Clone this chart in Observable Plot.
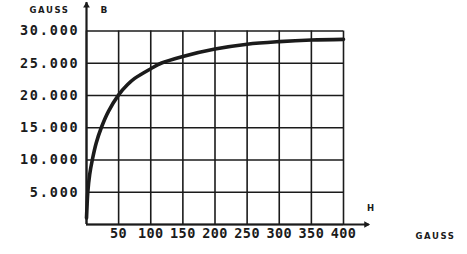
<!DOCTYPE html>
<html>
<head>
<meta charset="utf-8">
<script src="https://cdn.jsdelivr.net/npm/d3@7"></script>
<script src="https://cdn.jsdelivr.net/npm/@observablehq/plot@0.6"></script>
<style>
  html, body { margin: 0; padding: 0; background: #fff; }
  #chart svg { display: block; }
  .ylab text { letter-spacing: 1.8px; }
  .xlab text { letter-spacing: 0.4px; }
  .unit { letter-spacing: 1.6px; }
</style>
</head>
<body>
<div id="chart"></div>
<script>
// Magnetization curve: H (gauss) vs B (gauss)
const H = [0, 1, 2, 5, 9, 15, 23, 34, 50, 64, 75, 100, 116, 150, 200, 250, 300, 350, 400];
const B = [1000, 3200, 5000, 7800, 10000, 12600, 15000, 17500, 20100, 21700, 22650, 24150, 25000, 26050, 27200, 27950, 28350, 28600, 28700];
const xTicks = [50, 100, 150, 200, 250, 300, 350, 400];
const yTicks = [5000, 10000, 15000, 20000, 25000, 30000];
const gridX = [0, 50, 100, 150, 200, 250, 300, 350, 400];
const gridY = [0, 5000, 10000, 15000, 20000, 25000, 30000];
const xAxisEnd = 440;   // arrow tip of H axis
const yAxisEnd = 34400; // arrow tip of B axis

const curve = H.map((h, i) => ({H: h, B: B[i]}));
const ink = "#1b1b1b";
const mono = "DejaVu Sans Mono";

const chart = Plot.plot({
  width: 467,
  height: 254,
  marginLeft: 86,
  marginRight: 124,
  marginTop: 30.5,
  marginBottom: 30,
  style: {fontFamily: "DejaVu Sans", color: ink, background: "#fff"},
  x: {domain: [0, 400], axis: null},
  y: {domain: [0, 30000], axis: null},
  marks: [
    Plot.ruleX(gridX, {y1: 0, y2: 30000, stroke: ink, strokeWidth: 1.6}),
    Plot.ruleY(gridY, {x1: 0, x2: 400, stroke: ink, strokeWidth: 1.6}),
    // axes with arrows
    Plot.ruleY([0], {x1: 0, x2: xAxisEnd, stroke: ink, strokeWidth: 2.2}),
    Plot.ruleX([0], {y1: 0, y2: yAxisEnd, stroke: ink, strokeWidth: 2.2}),
    Plot.dot([{x: xAxisEnd, y: 0}], {x: "x", y: "y", symbol: "triangle2", r: 3.2, fill: ink, stroke: null, rotate: 90, dx: -3}),
    Plot.dot([{x: 0, y: yAxisEnd}], {x: "x", y: "y", symbol: "triangle2", r: 3.2, fill: ink, stroke: null, dy: 3}),
    // curve
    Plot.line(curve, {x: "H", y: "B", curve: "catmull-rom", stroke: ink, strokeWidth: 3.6, strokeLinecap: "round"}),
    // tick labels
    Plot.axisX(xTicks, {
      tickSize: 0, tickPadding: 4, fontSize: 13.5, fontWeight: "bold", fontFamily: mono,
      className: "xlab", label: null, fill: ink
    }),
    Plot.axisY(yTicks, {
      tickSize: 0, tickPadding: 7, fontSize: 13.5, fontWeight: "bold", fontFamily: mono,
      className: "ylab", label: null, fill: ink,
      tickFormat: d => d3.format(",")(d).replace(",", ".")
    }),
    // unit labels
    Plot.text(["GAUSS"], {frameAnchor: "top-left", textAnchor: "middle", dx: -37, dy: -20.5, fontSize: 8.5, fontWeight: "bold", lineAnchor: "middle", className: "unit", fill: ink}),
    Plot.text(["B"], {frameAnchor: "top-left", textAnchor: "middle", dx: 17.5, dy: -20.5, fontSize: 9, fontWeight: "bold", lineAnchor: "middle", fill: ink}),
    Plot.text(["H"], {frameAnchor: "bottom-right", textAnchor: "middle", dx: 27, dy: -16.5, fontSize: 8.5, fontWeight: "bold", lineAnchor: "middle", fill: ink}),
    Plot.text(["GAUSS"], {frameAnchor: "bottom-right", textAnchor: "middle", dx: 92, dy: 11.5, fontSize: 8.5, fontWeight: "bold", lineAnchor: "middle", className: "unit", fill: ink})
  ]
});
document.getElementById("chart").append(chart);
</script>
</body>
</html>
